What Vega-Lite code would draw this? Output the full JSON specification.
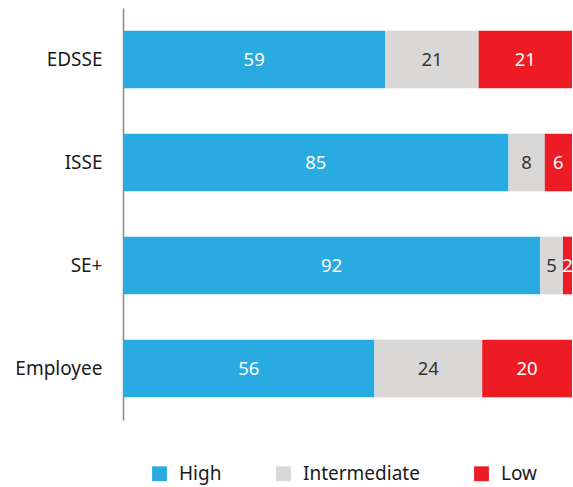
{
  "$schema": "https://vega.github.io/schema/vega-lite/v6.json",
  "width": 449,
  "height": 412,
  "autosize": {"type": "none"},
  "padding": {"left": 123, "top": 8, "right": 1, "bottom": 67},
  "config": {
    "font": "Noto Sans",
    "view": {"stroke": null},
    "axis": {"labelFont": "Noto Sans", "titleFont": "Noto Sans"},
    "legend": {"labelFont": "Noto Sans"}
  },
  "data": {
    "values": [
      {"group": "EDSSE", "level": "High", "value": 59, "ord": 1},
      {"group": "EDSSE", "level": "Intermediate", "value": 21, "ord": 2},
      {"group": "EDSSE", "level": "Low", "value": 21, "ord": 3},
      {"group": "ISSE", "level": "High", "value": 85, "ord": 1},
      {"group": "ISSE", "level": "Intermediate", "value": 8, "ord": 2},
      {"group": "ISSE", "level": "Low", "value": 6, "ord": 3},
      {"group": "SE+", "level": "High", "value": 92, "ord": 1},
      {"group": "SE+", "level": "Intermediate", "value": 5, "ord": 2},
      {"group": "SE+", "level": "Low", "value": 2, "ord": 3},
      {"group": "Employee", "level": "High", "value": 56, "ord": 1},
      {"group": "Employee", "level": "Intermediate", "value": 24, "ord": 2},
      {"group": "Employee", "level": "Low", "value": 20, "ord": 3}
    ]
  },
  "encoding": {
    "y": {
      "field": "group",
      "type": "nominal",
      "sort": ["EDSSE", "ISSE", "SE+", "Employee"],
      "scale": {"paddingInner": 0.44, "paddingOuter": 0.22},
      "axis": {
        "title": null,
        "ticks": false,
        "domainColor": "#888888",
        "domainWidth": 1.5,
        "labelFontSize": 19,
        "labelColor": "#1a1a1a",
        "labelPadding": 21
      }
    },
    "x": {
      "field": "value",
      "type": "quantitative",
      "stack": "normalize",
      "scale": {"domain": [0, 1], "nice": false},
      "axis": null
    },
    "order": {"field": "ord", "type": "quantitative"}
  },
  "layer": [
    {
      "mark": {"type": "bar"},
      "encoding": {
        "color": {
          "field": "level",
          "type": "nominal",
          "scale": {
            "domain": ["High", "Intermediate", "Low"],
            "range": ["#29ABE2", "#D9D8D6", "#ED1C24"]
          },
          "legend": {
            "title": null,
            "orient": "none",
            "direction": "horizontal",
            "legendX": 27,
            "legendY": 456,
            "symbolType": "square",
            "symbolSize": 220,
            "symbolStrokeWidth": 0,
            "labelFontSize": 19,
            "labelColor": "#1a1a1a",
            "labelOffset": 10,
            "columnPadding": 52
          }
        }
      }
    },
    {
      "mark": {"type": "text", "fontSize": 18.5, "baseline": "middle", "align": "center"},
      "encoding": {
        "x": {
          "field": "value",
          "type": "quantitative",
          "stack": "normalize",
          "bandPosition": 0.5
        },
        "text": {"field": "value", "type": "quantitative"},
        "color": {
          "condition": {"test": "datum.level === 'Intermediate'", "value": "#333333"},
          "value": "white"
        }
      }
    }
  ]
}
